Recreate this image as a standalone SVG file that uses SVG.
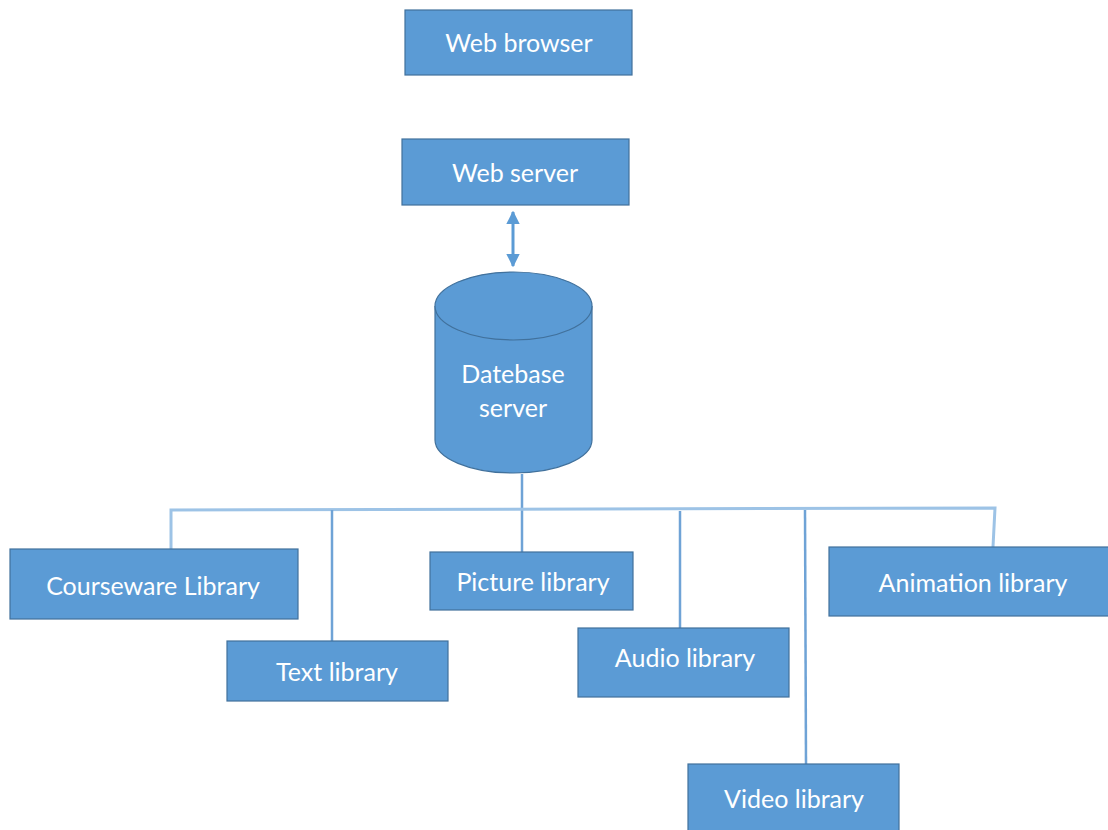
<svg xmlns="http://www.w3.org/2000/svg" width="1108" height="830" viewBox="0 0 1108 830">
  <style>
    .box { fill: #5b9bd5; stroke: #41719c; stroke-width: 1.2; }
    .lbl { font-family: Lato, "Open Sans", sans-serif; font-size: 25px; fill: #ffffff; text-anchor: middle; dominant-baseline: central; }
    .wire { fill: none; stroke: #9dc3e6; stroke-width: 3; }
    .wire-dark { fill: none; stroke: #6fa3d6; stroke-width: 2.5; }
  </style>
  <defs>
    <marker id="head" viewBox="0 0 10 10" refX="9" refY="5" markerWidth="4.5" markerHeight="4.5" orient="auto-start-reverse" markerUnits="strokeWidth">
      <path d="M0,0 L10,5 L0,10 Z" fill="#5b9bd5"/>
    </marker>
  </defs>

  <rect width="1108" height="830" fill="#ffffff"/>

  <!-- connectors -->
  <g id="connectors">
    <line x1="513" y1="212" x2="513" y2="266" stroke="#5b9bd5" stroke-width="3" marker-start="url(#head)" marker-end="url(#head)"/>
    <!-- trunk from the database down to the bus -->
    <line class="wire-dark" x1="522" y1="474" x2="522" y2="552"/>
    <!-- horizontal bus -->
    <polyline class="wire" points="171,549 171,510 995,508 993,547"/>
    <line class="wire-dark" x1="332" y1="510" x2="332" y2="641"/>
    <line class="wire-dark" x1="680" y1="511" x2="680" y2="628"/>
    <line class="wire-dark" x1="805" y1="510" x2="806" y2="764"/>
  </g>

  <g id="web-browser">
    <rect class="box" x="405" y="10" width="227" height="65"/>
    <text class="lbl" x="519" y="42">Web browser</text>
  </g>

  <g id="web-server">
    <rect class="box" x="402" y="139" width="227" height="66"/>
    <text class="lbl" x="515" y="172">Web server</text>
  </g>

  <g id="database-server">
    <path class="box" d="M435,306 L435,440 A78.5,33 0 0 0 592,440 L592,306"/>
    <ellipse class="box" cx="513.5" cy="306" rx="78.5" ry="34"/>
    <text class="lbl" x="513" y="373">Datebase</text>
    <text class="lbl" x="513" y="407">server</text>
  </g>

  <g id="courseware-library">
    <rect class="box" x="10" y="549" width="288" height="70"/>
    <text class="lbl" x="153" y="585">Courseware Library</text>
  </g>

  <g id="text-library">
    <rect class="box" x="227" y="641" width="221" height="60"/>
    <text class="lbl" x="337" y="671">Text library</text>
  </g>

  <g id="picture-library">
    <rect class="box" x="430" y="552" width="203" height="58"/>
    <text class="lbl" x="533" y="581">Picture library</text>
  </g>

  <g id="audio-library">
    <rect class="box" x="578" y="628" width="211" height="69"/>
    <text class="lbl" x="685" y="657">Audio library</text>
  </g>

  <g id="animation-library">
    <rect class="box" x="829" y="547" width="285" height="69"/>
    <text class="lbl" x="973" y="582">Animation library</text>
  </g>

  <g id="video-library">
    <rect class="box" x="688" y="764" width="211" height="72"/>
    <text class="lbl" x="794" y="798">Video library</text>
  </g>
</svg>
